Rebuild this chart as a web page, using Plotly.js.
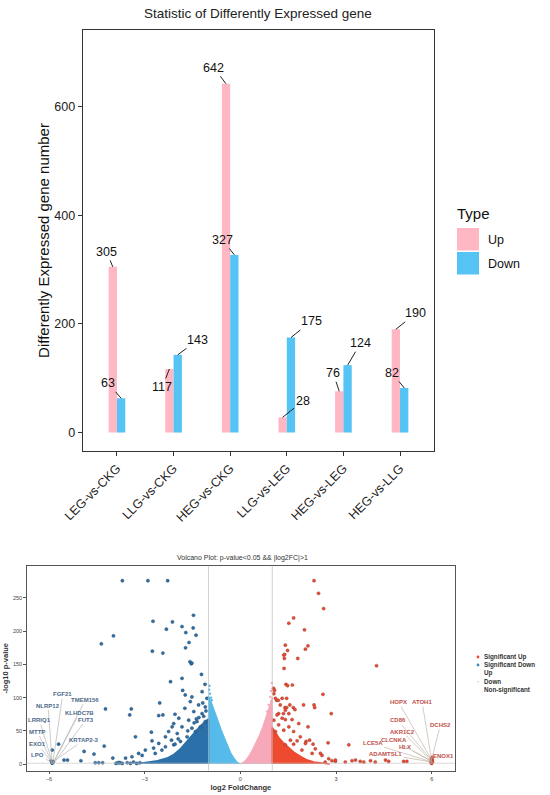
<!DOCTYPE html>
<html><head><meta charset="utf-8">
<script src="https://cdn.plot.ly/plotly-3.0.1.min.js"></script>
<style>html,body{margin:0;padding:0;background:#fff}</style>
</head><body><div id="chart" style="width:550px;height:795px"></div>
<script>
// ---------- Bar chart data ----------
const categories = ["LEG-vs-CKG","LLG-vs-CKG","HEG-vs-CKG","LLG-vs-LEG","HEG-vs-LEG","HEG-vs-LLG"];
const upCounts = [305,117,642,28,76,190];
const downCounts = [63,143,327,175,124,82];
const barTicks = [0,200,400,600];

// ---------- Volcano data ----------
const sigDownX = [-3.70,-2.90,-2.28,-1.47,-2.74,-2.13,-1.83,-1.48,-2.32,-1.71,-1.39,-3.98,-4.36,-1.61,-1.72,-2.76,-2.43,-1.58,-1.54,-1.52,
  -1.22,-2.19,-1.11,-1.83,-4.23,-3.42,-3.47,-2.53,-2.56,-2.43,-2.05,-3.29,-2.79,-2.77,-4.27,-4.59,-4.90,-5.00,-5.42,-5.53,-5.70,-5.90,
  -4.55,-4.44,-4.32,-4.00,-3.84,-3.77,
  -1.81,-1.73,-1.52,-1.20,-1.05,-1.57,-1.31,-1.10,-1.74,-1.46,-1.20,-1.93,-1.62,-1.36,-2.09,-1.83,-2.25,-1.52,-1.98,-2.35,-2.16,-2.56,
  -2.35,-2.72,-2.98,-3.19,-3.08,-3.40,-3.60,-2.67,-2.46,-2.09,-1.88,-1.67,-1.41,-1.25,-1.10,-2.14,
  -3.90,-3.80,-3.70,-3.55,-3.45,-3.35,-3.25,-3.15,-1.15,-1.30,-1.45,-1.65,-1.95,-2.05,-1.08,-1.18,-1.38];
const sigDownY = [276,276,276,224,215,214,207,205,203,198,194,193,181,183,175,170,167,154,151,152,
  135,124,120,129,83,83,74,92,73,74,75,41,48,35,27,15,19,5,6,6,30,21,
  2,2,2,9,2,2,
  111,104,101,109,99,94,89,86,84,79,76,69,66,64,61,56,49,54,46,41,36,31,
  26,24,21,16,13,11,9,16,21,29,34,41,49,56,64,56,
  1,2,1,2,1,3,1,2,72,70,62,50,38,30,80,92,68];
const sigDownCoreX = [-3.3,-3.0,-2.6,-2.3,-2.1,-1.9,-1.7,-1.5,-1.3,-1.15,-1.0,-1.0];
const sigDownCoreY = [0,2,5,9,14,22,33,45,55,62,68,0];
const downCloudX = [-1.0,-1.0,-0.9,-0.8,-0.7,-0.6,-0.5,-0.4,-0.3,-0.2,-0.1,0.0];
const downCloudY = [0,103,92,78,64,52,40,28,17,9,3,0];
const downSparseX = [-0.98,-0.95,-0.92,-0.97,-0.9];
const downSparseY = [112,106,100,118,96];
const upCloudX = [0.0,0.1,0.2,0.3,0.4,0.5,0.6,0.7,0.8,0.9,1.0,1.0];
const upCloudY = [0,3,8,15,24,33,44,56,70,85,100,0];
const upSparseX = [0.94,0.89,0.84,0.97,0.91,0.87,0.96,0.99];
const upSparseY = [101,89,79,94,69,61,110,122];
const sigUpCoreX = [1.0,1.0,1.1,1.2,1.35,1.5,1.7,1.9,2.1,2.3,2.6,2.8];
const sigUpCoreY = [0,55,48,40,32,25,17,11,6,3,1,0];
const sigUpX = [2.31,2.45,2.61,1.67,1.52,2.01,1.41,2.12,1.48,2.04,1.36,1.39,1.38,1.80,4.27,1.37,
  1.43,1.48,1.63,1.04,1.07,2.59,1.45,1.31,1.14,1.19,1.98,2.31,2.33,1.55,1.40,1.45,1.66,1.71,2.85,1.20,1.35,
  2.12,1.41,1.62,1.83,2.17,2.06,2.75,2.28,3.40,2.51,1.67,1.78,
  2.66,2.87,2.98,3.29,3.50,3.61,3.76,3.87,4.08,4.23,4.55,4.65,5.12,5.22,
  1.05,1.10,1.25,1.41,1.15,1.31,1.52,1.05,1.20,1.52,1.36,1.67,1.88,1.10,1.57,2.04,1.41,2.35,1.93,2.56,2.25,2.77,2.98,
  5.98,6.00,6.02,5.99,6.01,6.00,5.98,6.02];
const sigUpY = [276,257,234,220,212,202,179,178,171,173,164,165,159,159,148,144,
  120,118,119,114,111,105,99,99,96,96,89,89,85,89,85,85,85,82,76,76,76,
  56,67,67,61,36,34,32,30,29,16,30,35,
  3,5,4,3,5,6,4,3,5,3,6,4,4,4,
  106,99,89,81,74,69,76,66,59,56,51,49,41,49,36,31,29,23,21,13,16,8,6,
  2,4,6,8,10,1,5,3];
const nsX = [-5.92,-5.88,-5.90,-5.86,-5.94];
const nsY = [2,4,1,3,5];

const leftLabels = ["FGF21","TMEM156","NLRP12","KLHDC7B","LRRIQ1","FUT3","MTTP","KRTAP2-3","EXO1","LPO"];
const leftLabelX = [-5.57,-4.86,-6.03,-5.05,-6.30,-4.84,-6.37,-4.91,-6.35,-6.35];
const leftLabelY = [105,97,88,77,66,67,49,36,30,14];
const leftGeneX = [-5.88,-5.86,-5.90,-5.86,-5.90,-5.85,-5.90,-5.86,-5.89,-5.90];
const leftGeneY = [2,3,1,2,3,1,2,4,1,2];
const rightLabels = ["HOPX","ATOH1","CD86","DCHS2","AKR1C2","CLCNKA","LCE5A","HLX","ENOX1","ADAMTSL1"];
const rightLabelX = [4.96,5.70,4.94,6.27,5.07,4.81,4.15,5.17,6.37,4.55];
const rightLabelY = [93,93,66,59,49,36,31,26,12,15];
const rightGeneX = [6.0,6.0,6.0,6.0,6.0,6.0,6.0,6.0,6.0,6.0];
const rightGeneY = [6,5,5,7,4,4,3,4,5,3];
const volcanoXTicks = [-6,-3,0,3,6];
const volcanoYTicks = [0,50,100,150,200,250];
const volcanoLegend = ["Significant Up","Significant Down","Up","Down","Non-significant"];

// ---------- styles ----------
const UP = "#FFB8C3", DOWN = "#55C3F3";
const C_SIGUP = "#EE4A30", C_SIGDOWN = "#2C70AA", C_UP = "#F7A9B9", C_DOWN = "#56BBEA";
const upLabelOff = [[-6,-15],[-7,18],[-12,-16],[20,-16],[-6,-18],[20,-16]];
const downLabelOff = [[-13,-15],[20,-15],[-12,-15],[20,-16],[13,-22],[-12,-15]];
const W = 550, H = 795;
const px = v => v / W, py = v => 1 - v / H;
const FONT = "Liberation Sans, Arial, sans-serif";

const traces = [
  {type:'bar', x:categories, y:upCounts, name:'Up', marker:{color:UP}, xaxis:'x', yaxis:'y', hoverinfo:'skip'},
  {type:'bar', x:categories, y:downCounts, name:'Down', marker:{color:DOWN}, xaxis:'x', yaxis:'y', hoverinfo:'skip'},
  {type:'scatter', mode:'lines', x:downCloudX, y:downCloudY, fill:'toself', fillcolor:C_DOWN, line:{color:C_DOWN,width:1}, xaxis:'x2', yaxis:'y2'},
  {type:'scatter', mode:'lines', x:upCloudX, y:upCloudY, fill:'toself', fillcolor:C_UP, line:{color:C_UP,width:1}, xaxis:'x2', yaxis:'y2'},
  {type:'scatter', mode:'lines', x:sigDownCoreX, y:sigDownCoreY, fill:'toself', fillcolor:C_SIGDOWN, line:{color:C_SIGDOWN,width:1.5}, xaxis:'x2', yaxis:'y2'},
  {type:'scatter', mode:'lines', x:sigUpCoreX, y:sigUpCoreY, fill:'toself', fillcolor:C_SIGUP, line:{color:C_SIGUP,width:1.5}, xaxis:'x2', yaxis:'y2'},
  {type:'scatter', mode:'markers', x:downSparseX, y:downSparseY, marker:{color:C_DOWN,size:2.5}, xaxis:'x2', yaxis:'y2'},
  {type:'scatter', mode:'markers', x:upSparseX, y:upSparseY, marker:{color:C_UP,size:2.5}, xaxis:'x2', yaxis:'y2'},
  {type:'scatter', mode:'markers', x:sigDownX, y:sigDownY, marker:{color:C_SIGDOWN,size:3.2,line:{color:'#24405e',width:0.4}}, xaxis:'x2', yaxis:'y2'},
  {type:'scatter', mode:'markers', x:sigUpX, y:sigUpY, marker:{color:C_SIGUP,size:3.2,line:{color:'#8a3a30',width:0.4}}, xaxis:'x2', yaxis:'y2'},
  {type:'scatter', mode:'markers', x:nsX, y:nsY, marker:{color:'#2a4f78',size:3.2}, xaxis:'x2', yaxis:'y2'}
];

const ann = [];
ann.push({xref:'paper', yref:'paper', x:px(258), y:py(14), text:'Statistic of Differently Expressed gene', showarrow:false, font:{size:13.5,color:'#222'}, xanchor:'center', yanchor:'middle'});
categories.forEach((c,i)=>{
  ann.push({xref:'x', yref:'y', x:c, y:upCounts[i], xshift:-4.2, text:String(upCounts[i]), showarrow:true, arrowhead:0, arrowwidth:1, arrowcolor:'#222', ax:upLabelOff[i][0], ay:upLabelOff[i][1], standoff:0, font:{size:12.5,color:'#111'}});
  ann.push({xref:'x', yref:'y', x:c, y:downCounts[i], xshift:4.2, text:String(downCounts[i]), showarrow:true, arrowhead:0, arrowwidth:1, arrowcolor:'#222', ax:downLabelOff[i][0], ay:downLabelOff[i][1], standoff:0, font:{size:12.5,color:'#111'}});
});
// bar legend
ann.push({xref:'paper', yref:'paper', x:px(455), y:py(214), text:'Type', showarrow:false, xanchor:'left', yanchor:'middle', font:{size:15,color:'#111'}});
ann.push({xref:'paper', yref:'paper', x:px(486), y:py(240), text:'Up', showarrow:false, xanchor:'left', yanchor:'middle', font:{size:12.5,color:'#111'}});
ann.push({xref:'paper', yref:'paper', x:px(486), y:py(264), text:'Down', showarrow:false, xanchor:'left', yanchor:'middle', font:{size:12.5,color:'#111'}});
// volcano title
ann.push({xref:'paper', yref:'paper', x:px(242), y:py(558), text:'Volcano Plot: p-value&lt;0.05 &amp;&amp; |log2FC|&gt;1', showarrow:false, font:{size:7,color:'#333'}, xanchor:'center', yanchor:'middle'});
leftLabels.forEach((t,i)=>{
  ann.push({xref:'x2', yref:'y2', axref:'x2', ayref:'y2', x:leftGeneX[i], y:leftGeneY[i], ax:leftLabelX[i], ay:leftLabelY[i], text:'<b>'+t+'</b>', showarrow:true, arrowhead:0, arrowwidth:0.6, arrowcolor:'#a8a8a8', standoff:0, font:{size:6,color:'#4d6a8c'}});
});
rightLabels.forEach((t,i)=>{
  ann.push({xref:'x2', yref:'y2', axref:'x2', ayref:'y2', x:rightGeneX[i], y:rightGeneY[i], ax:rightLabelX[i], ay:rightLabelY[i], text:'<b>'+t+'</b>', showarrow:true, arrowhead:0, arrowwidth:0.6, arrowcolor:'#b8a898', standoff:0, font:{size:6,color:'#c0504a'}});
});
// volcano legend
const vlY = [657,665,673,681.7,690];
volcanoLegend.forEach((t,i)=>{
  ann.push({xref:'paper', yref:'paper', x:px(481.5), y:py(vlY[i]), text:'<b>'+t+'</b>', showarrow:false, xanchor:'left', yanchor:'middle', font:{size:6.3,color:'#333'}});
});

const shapes = [
  {type:'rect', xref:'paper', yref:'paper', x0:px(457), x1:px(479), y0:py(228), y1:py(250.5), fillcolor:UP, line:{width:0}},
  {type:'rect', xref:'paper', yref:'paper', x0:px(457), x1:px(479), y0:py(252), y1:py(274.5), fillcolor:DOWN, line:{width:0}},
  {type:'line', xref:'x2', yref:'y2 domain', x0:-1, x1:-1, y0:0, y1:1, line:{color:'#bdbdbd', width:0.7}},
  {type:'line', xref:'x2', yref:'y2 domain', x0:1, x1:1, y0:0, y1:1, line:{color:'#bdbdbd', width:0.7}},
  {type:'line', xref:'x2 domain', yref:'y2', x0:0, x1:1, y0:1.3, y1:1.3, line:{color:'#c8c8c8', width:0.7}},
  {type:'circle', xref:'paper', yref:'paper', x0:px(476.6), x1:px(479.4), y0:py(655.6), y1:py(658.4), fillcolor:C_SIGUP, line:{width:0}},
  {type:'circle', xref:'paper', yref:'paper', x0:px(476.6), x1:px(479.4), y0:py(663.6), y1:py(666.4), fillcolor:'#3a8fb8', line:{width:0}},
  {type:'circle', xref:'paper', yref:'paper', x0:px(477.2), x1:px(478.8), y0:py(680.9), y1:py(682.5), fillcolor:'#a9cde4', line:{width:0}}
];

const axBase = {showgrid:false, zeroline:false, showline:true, mirror:true, ticks:'outside'};
const layout = {
  width:W, height:H, margin:{l:0,r:0,t:0,b:0}, paper_bgcolor:'#fff', plot_bgcolor:'#fff',
  showlegend:false, barmode:'group', bargap:0.706, bargroupgap:0,
  font:{family:FONT, color:'#222'},
  xaxis: Object.assign({}, axBase, {domain:[px(83), px(434)], anchor:'y', type:'category', range:[-0.6,5.6],
    linecolor:'#333', linewidth:1.3, ticklen:4, tickcolor:'#333', tickangle:-45, tickfont:{size:12.5,color:'#222'}}),
  yaxis: Object.assign({}, axBase, {domain:[py(451), py(30)], anchor:'x', range:[-34,741], tickvals:barTicks,
    linecolor:'#333', linewidth:1.3, ticklen:4, tickcolor:'#333', tickfont:{size:12.5,color:'#222'},
    title:{text:'Differently Expressed gene number', font:{size:15,color:'#111'}, standoff:1}}),
  xaxis2: Object.assign({}, axBase, {domain:[px(26.7), px(455)], anchor:'y2', range:[-6.7,6.73], tickvals:volcanoXTicks,
    linecolor:'#555', linewidth:1, ticklen:2.5, tickcolor:'#555', tickfont:{size:5.5,color:'#444'},
    title:{text:'<b>log2 FoldChange</b>', font:{size:7.5,color:'#333'}, standoff:3}}),
  yaxis2: Object.assign({}, axBase, {domain:[py(770.7), py(565.7)], anchor:'x2', range:[-10,298.6], tickvals:volcanoYTicks,
    linecolor:'#555', linewidth:1, ticklen:2.5, tickcolor:'#555', tickfont:{size:5.5,color:'#444'},
    title:{text:'<b>-log10 p-value</b>', font:{size:7.5,color:'#333'}, standoff:3}}),
  annotations: ann, shapes: shapes
};
Plotly.newPlot('chart', traces, layout, {displayModeBar:false, staticPlot:true});
</script></body></html>
